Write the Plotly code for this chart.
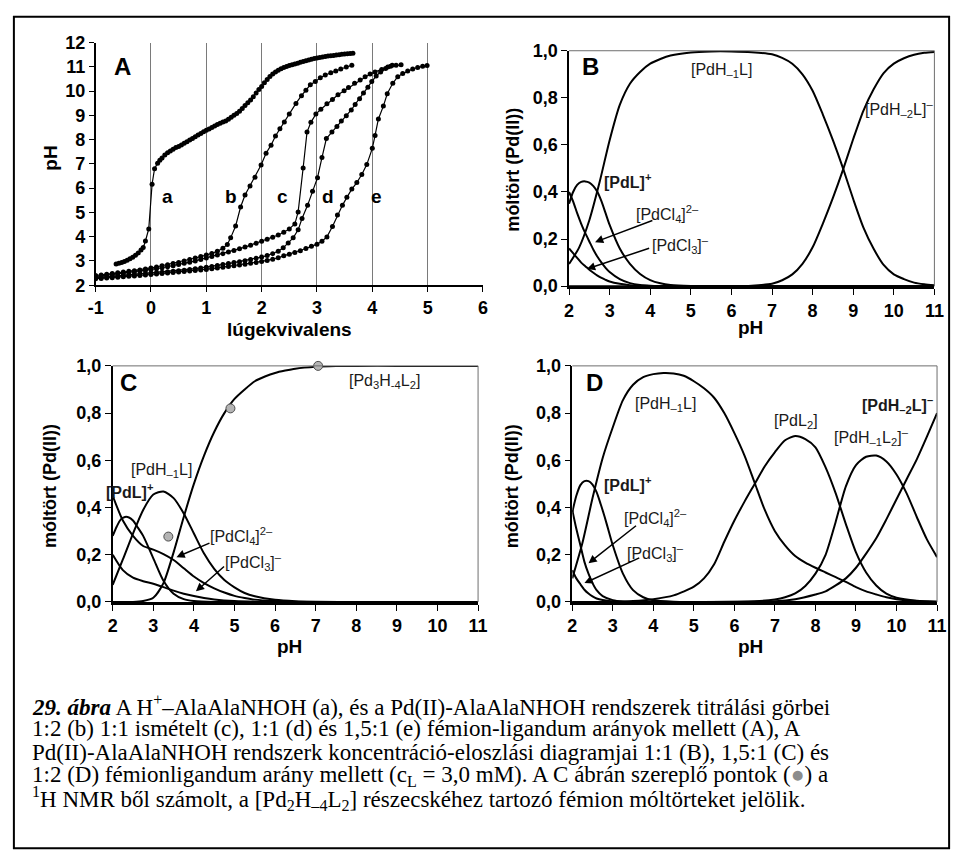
import plotly.graph_objects as go

W, H = 965, 865
SANS = "Arial, 'Liberation Sans', sans-serif"
SERIF = "'Times New Roman', 'Liberation Serif', serif"

# ---------------- Panel A : titration curves ----------------
A_XTICKS = [-1, 0, 1, 2, 3, 4, 5, 6]
A_XTICKLABELS = ["-1", "0", "1", "2", "3", "4", "5", "6"]
A_YTICKS = [2, 3, 4, 5, 6, 7, 8, 9, 10, 11, 12]
A_YTICKLABELS = ["2", "3", "4", "5", "6", "7", "8", "9", "10", "11", "12"]

a_x = [-0.63, -0.58, -0.53, -0.48, -0.43, -0.38, -0.33, -0.28, -0.23, -0.18,
       -0.14, -0.10, -0.04, 0.02, 0.065, 0.12, 0.16,
       0.20, 0.25, 0.30, 0.35, 0.40, 0.45, 0.50, 0.55, 0.60, 0.65, 0.70, 0.75, 0.80, 0.85, 0.90, 0.95, 1.00,
       1.05, 1.10, 1.15, 1.20, 1.25, 1.30, 1.35, 1.40, 1.45, 1.50,
       1.55, 1.60, 1.65, 1.70, 1.75, 1.80, 1.85, 1.90, 1.95, 2.00,
       2.05, 2.10, 2.15, 2.20, 2.25, 2.30, 2.35, 2.40, 2.45, 2.50,
       2.55, 2.60, 2.65, 2.70, 2.75, 2.80, 2.85, 2.90, 2.95, 3.00,
       3.05, 3.10, 3.15, 3.20, 3.25, 3.30, 3.35, 3.40, 3.45, 3.50,
       3.55, 3.60, 3.65]
a_y = [2.87, 2.90, 2.93, 2.98, 3.03, 3.09, 3.15, 3.23, 3.33, 3.45,
       3.55, 3.82, 4.32, 6.16, 6.80, 7.03, 7.15,
       7.24, 7.36, 7.46, 7.53, 7.60, 7.67, 7.72, 7.78, 7.85, 7.91, 7.98, 8.05, 8.12, 8.19, 8.25, 8.32, 8.38,
       8.44, 8.50, 8.56, 8.62, 8.67, 8.72, 8.77, 8.84, 8.92, 9.00,
       9.08, 9.17, 9.28, 9.41, 9.52, 9.63, 9.77, 9.92, 10.06, 10.19,
       10.34, 10.48, 10.60, 10.70, 10.79, 10.86, 10.92, 10.97, 11.01, 11.05,
       11.08, 11.12, 11.15, 11.19, 11.22, 11.25, 11.28, 11.31, 11.34, 11.36,
       11.38, 11.40, 11.42, 11.44, 11.46, 11.47, 11.49, 11.50, 11.52, 11.53,
       11.54, 11.55, 11.56]

b_x = [-1.0, -0.9, -0.8, -0.7, -0.6, -0.5, -0.4, -0.3, -0.2, -0.1, 0.0, 0.1, 0.2, 0.3, 0.4, 0.5,
       0.6, 0.7, 0.8, 0.9, 1.0, 1.1, 1.2, 1.3, 1.38, 1.44,
       1.53, 1.62, 1.70, 1.79, 1.88, 1.99, 2.08, 2.17, 2.25, 2.33, 2.41, 2.50,
       2.62, 2.72, 2.80, 2.88, 2.97, 3.06, 3.15, 3.25, 3.34, 3.43, 3.53, 3.63]
b_y = [2.40, 2.42, 2.45, 2.48, 2.51, 2.54, 2.57, 2.60, 2.63, 2.67, 2.71, 2.75, 2.80, 2.84, 2.89, 2.94,
       3.00, 3.06, 3.12, 3.18, 3.24, 3.31, 3.40, 3.52, 3.68, 3.95,
       4.44, 5.22, 5.72, 6.09, 6.45, 6.95, 7.44, 7.77, 8.15, 8.45, 8.72, 9.05,
       9.49, 9.81, 10.03, 10.26, 10.39, 10.55, 10.66, 10.75, 10.83, 10.91, 10.99, 11.06]

c_x = [-1.0, -0.9, -0.8, -0.7, -0.6, -0.5, -0.4, -0.3, -0.2, -0.1, 0.0, 0.1, 0.2, 0.3, 0.4, 0.5,
       0.6, 0.7, 0.8, 0.9, 1.0, 1.1, 1.2, 1.3, 1.4, 1.5, 1.6, 1.7, 1.8, 1.9, 2.0, 2.1, 2.2, 2.3, 2.4, 2.5,
       2.6, 2.66, 2.75, 2.82, 2.89, 2.98, 3.07, 3.18, 3.28, 3.38,
       3.49, 3.57, 3.68, 3.78, 3.87, 3.96, 4.05, 4.17, 4.28, 4.36]
c_y = [2.35, 2.38, 2.41, 2.43, 2.46, 2.48, 2.51, 2.54, 2.57, 2.61, 2.64, 2.68, 2.72, 2.76, 2.80, 2.85,
       2.90, 2.95, 3.00, 3.06, 3.12, 3.18, 3.24, 3.30, 3.37, 3.43, 3.50, 3.57, 3.65, 3.73, 3.81, 3.89, 3.98, 4.07, 4.18, 4.32,
       4.52, 5.02, 6.83, 8.31, 8.71, 9.05, 9.25, 9.48, 9.65, 9.85,
       10.01, 10.15, 10.32, 10.46, 10.59, 10.70, 10.79, 10.89, 10.99, 11.06]

d_x = [-1.0, -0.9, -0.8, -0.7, -0.6, -0.5, -0.4, -0.3, -0.2, -0.1, 0.0, 0.1, 0.2, 0.3, 0.4, 0.5,
       0.6, 0.7, 0.8, 0.9, 1.0, 1.1, 1.2, 1.3, 1.4, 1.5, 1.6, 1.7, 1.8, 1.9, 2.0, 2.1, 2.2, 2.3,
       2.39, 2.48, 2.57, 2.66, 2.73, 2.83, 2.92, 3.01, 3.09, 3.17,
       3.27, 3.36, 3.44, 3.53, 3.62, 3.69, 3.77, 3.84, 3.92, 3.99,
       4.07, 4.15, 4.24, 4.33, 4.43, 4.52]
d_y = [2.30, 2.32, 2.34, 2.36, 2.37, 2.39, 2.41, 2.43, 2.45, 2.47, 2.49, 2.51, 2.53, 2.55, 2.57, 2.59,
       2.62, 2.65, 2.68, 2.71, 2.74, 2.77, 2.81, 2.85, 2.89, 2.93, 2.97, 3.01, 3.06, 3.11, 3.16, 3.22, 3.30, 3.40,
       3.54, 3.74, 3.95, 4.28, 4.75, 5.29, 5.87, 6.43, 7.26, 8.04,
       8.31, 8.54, 8.77, 8.98, 9.22, 9.45, 9.68, 9.92, 10.16, 10.39,
       10.62, 10.79, 10.93, 11.02, 11.06, 11.08]

e_x = [-1.0, -0.9, -0.8, -0.7, -0.6, -0.5, -0.4, -0.3, -0.2, -0.1, 0.0, 0.1, 0.2, 0.3, 0.4, 0.5,
       0.6, 0.7, 0.8, 0.9, 1.0, 1.1, 1.2, 1.3, 1.4, 1.5, 1.6, 1.7, 1.8, 1.9, 2.0, 2.1, 2.2, 2.3, 2.4,
       2.5, 2.6, 2.7, 2.8, 2.9, 3.0,
       3.09, 3.18, 3.28, 3.37, 3.46, 3.54, 3.63, 3.72, 3.81, 3.90, 4.0, 4.05, 4.11, 4.20, 4.27, 4.37,
       4.46, 4.55, 4.64, 4.73, 4.82, 4.91, 4.99]
e_y = [2.27, 2.28, 2.30, 2.31, 2.33, 2.35, 2.37, 2.38, 2.40, 2.42, 2.44, 2.46, 2.48, 2.50, 2.52, 2.54,
       2.56, 2.58, 2.61, 2.63, 2.65, 2.68, 2.71, 2.74, 2.77, 2.80, 2.83, 2.86, 2.90, 2.94, 2.98, 3.02, 3.07, 3.13, 3.21,
       3.28, 3.35, 3.42, 3.51, 3.60, 3.69,
       3.81, 3.99, 4.42, 4.89, 5.29, 5.62, 5.96, 6.23, 6.56, 6.97, 7.64, 8.17, 8.85, 9.38, 9.89, 10.32,
       10.59, 10.72, 10.83, 10.91, 10.97, 11.02, 11.05]

A_CURVES = [("a", a_x, a_y), ("b", b_x, b_y), ("c", c_x, c_y), ("d", d_x, d_y), ("e", e_x, e_y)]
A_CURVE_LABELS = ["a", "b", "c", "d", "e"]
A_LABEL_X = [0.30, 1.44, 2.38, 3.20, 4.07]
A_LABEL_Y = 5.66

# ---------------- Panel B : 1:1 ----------------
PH_TICKS = [2, 3, 4, 5, 6, 7, 8, 9, 10, 11]
PH_TICKLABELS = ["2", "3", "4", "5", "6", "7", "8", "9", "10", "11"]
FRAC_TICKS = [0.0, 0.2, 0.4, 0.6, 0.8, 1.0]
FRAC_TICKLABELS = ["0,0", "0,2", "0,4", "0,6", "0,8", "1,0"]

B_PdCl4_pH = [2.0, 2.1, 2.2, 2.3, 2.4, 2.5, 2.6, 2.7, 2.8, 2.9, 3.0, 3.25, 3.5, 3.75, 4.0, 4.5, 5.0, 6.0, 8.0, 11.0]
B_PdCl4 = [0.40, 0.36, 0.31, 0.265, 0.225, 0.19, 0.155, 0.125, 0.10, 0.078, 0.06, 0.03, 0.013, 0.005, 0.002, 0.0, 0.0, 0.0, 0.0, 0.0]
B_PdCl3_pH = [2.0, 2.1, 2.2, 2.3, 2.4, 2.5, 2.6, 2.7, 2.8, 2.9, 3.0, 3.25, 3.5, 4.0, 4.5, 5.0, 6.0, 8.0, 11.0]
B_PdCl3 = [0.16, 0.14, 0.12, 0.10, 0.085, 0.07, 0.057, 0.045, 0.035, 0.027, 0.02, 0.01, 0.004, 0.001, 0.0, 0.0, 0.0, 0.0, 0.0]
B_PdL_pH = [2.0, 2.1, 2.2, 2.3, 2.4, 2.5, 2.6, 2.7, 2.8, 2.9, 3.0, 3.25, 3.5, 3.75, 4.0, 4.25, 4.5, 5.0, 6.0, 8.0, 11.0]
B_PdL = [0.35, 0.40, 0.43, 0.443, 0.445, 0.44, 0.425, 0.40, 0.36, 0.31, 0.26, 0.16, 0.095, 0.052, 0.026, 0.012, 0.005, 0.001, 0.0, 0.0, 0.0]
B_PdH1L_pH = [2.0, 2.25, 2.5, 2.75, 3.0, 3.25, 3.5, 3.75, 4.0, 4.25, 4.5, 5.0, 5.5, 6.0, 6.5, 7.0, 7.25,
              7.5, 7.75, 8.0, 8.25, 8.5, 8.75, 9.0, 9.25, 9.5, 9.75, 10.0, 10.25, 10.5, 10.75, 11.0]
B_PdH1L = [0.094, 0.165, 0.28, 0.44, 0.62, 0.77, 0.86, 0.91, 0.945, 0.965, 0.98, 0.993, 0.997, 0.997, 0.994, 0.985, 0.97,
           0.945, 0.90, 0.83, 0.73, 0.62, 0.50, 0.37, 0.25, 0.16, 0.09, 0.05, 0.03, 0.015, 0.008, 0.004]
B_PdH2L_pH = [2.0, 4.0, 6.0, 6.5, 7.0, 7.25, 7.5, 7.75, 8.0, 8.25, 8.5, 8.75, 9.0, 9.25, 9.5, 9.75, 10.0, 10.25, 10.5, 10.75, 11.0]
B_PdH2L = [0.0, 0.0, 0.0, 0.002, 0.01, 0.025, 0.05, 0.095, 0.165, 0.265, 0.375, 0.495, 0.625, 0.745, 0.835, 0.905, 0.945, 0.968, 0.983, 0.991, 0.995]

# ---------------- Panel C : 1.5:1 ----------------
C_PdCl4_pH = [2.0, 2.25, 2.5, 2.75, 3.0, 3.25, 3.5, 3.75, 4.0, 4.25, 4.5, 4.75, 5.0, 5.25, 5.5, 6.0, 6.5, 7.0, 9.0, 11.0]
C_PdCl4 = [0.45, 0.345, 0.28, 0.237, 0.222, 0.203, 0.178, 0.143, 0.108, 0.08, 0.058, 0.04, 0.026, 0.017, 0.01, 0.004, 0.001, 0.0, 0.0, 0.0]
C_PdCl3_pH = [2.0, 2.25, 2.5, 2.75, 3.0, 3.25, 3.5, 3.75, 4.0, 4.25, 4.5, 5.0, 5.5, 6.0, 8.0, 11.0]
C_PdCl3 = [0.20, 0.135, 0.103, 0.088, 0.077, 0.063, 0.048, 0.035, 0.025, 0.017, 0.011, 0.004, 0.001, 0.0, 0.0, 0.0]
C_PdL_pH = [2.0, 2.1, 2.2, 2.3, 2.4, 2.5, 2.6, 2.75, 3.0, 3.25, 3.5, 3.75, 4.0, 4.5, 5.0, 7.0, 11.0]
C_PdL = [0.28, 0.32, 0.35, 0.36, 0.358, 0.345, 0.32, 0.28, 0.185, 0.09, 0.035, 0.012, 0.004, 0.0, 0.0, 0.0, 0.0]
C_PdH1L_pH = [2.0, 2.25, 2.5, 2.75, 3.0, 3.25, 3.5, 3.75, 4.0, 4.25, 4.5, 4.75, 5.0, 5.25, 5.5, 6.0, 6.5, 7.0, 8.0, 11.0]
C_PdH1L = [0.073, 0.18, 0.29, 0.39, 0.455, 0.468, 0.44, 0.375, 0.29, 0.205, 0.14, 0.093, 0.062, 0.038, 0.024, 0.009, 0.003, 0.001, 0.0, 0.0]
C_Pd3_pH = [2.0, 2.5, 2.75, 3.0, 3.25, 3.5, 3.75, 4.0, 4.25, 4.5, 4.75, 5.0, 5.25, 5.5, 5.75, 6.0, 6.25, 6.5, 7.0, 7.5, 8.0, 9.0, 10.0, 11.0]
C_Pd3 = [0.0, 0.0, 0.004, 0.018, 0.08, 0.21, 0.36, 0.50, 0.62, 0.72, 0.80, 0.86, 0.90, 0.935, 0.955, 0.97, 0.98, 0.988, 0.996, 0.999, 1.0, 1.0, 1.0, 1.0]
C_NMR_pH = [3.37, 4.90, 7.06]
C_NMR_frac = [0.277, 0.82, 1.0]

# ---------------- Panel D : 1:2 ----------------
D_PdCl4_pH = [2.0, 2.1, 2.2, 2.3, 2.4, 2.5, 2.6, 2.75, 3.0, 3.25, 3.5, 5.0, 8.0, 11.0]
D_PdCl4 = [0.39, 0.31, 0.24, 0.17, 0.12, 0.08, 0.05, 0.025, 0.008, 0.002, 0.0, 0.0, 0.0, 0.0]
D_PdCl3_pH = [2.0, 2.1, 2.2, 2.3, 2.4, 2.5, 2.6, 2.75, 3.0, 3.25, 5.0, 8.0, 11.0]
D_PdCl3 = [0.135, 0.10, 0.075, 0.052, 0.036, 0.024, 0.015, 0.008, 0.002, 0.0, 0.0, 0.0, 0.0]
D_PdL_pH = [2.0, 2.1, 2.2, 2.3, 2.4, 2.5, 2.6, 2.7, 2.8, 2.9, 3.0, 3.25, 3.5, 3.75, 4.0, 4.5, 5.0, 8.0, 11.0]
D_PdL = [0.38, 0.45, 0.495, 0.512, 0.512, 0.497, 0.465, 0.415, 0.36, 0.30, 0.24, 0.12, 0.05, 0.02, 0.007, 0.001, 0.0, 0.0, 0.0]
D_PdH1L_pH = [2.0, 2.25, 2.5, 2.75, 3.0, 3.25, 3.5, 3.75, 4.0, 4.25, 4.5, 4.75, 5.0, 5.25, 5.5, 5.75, 6.0, 6.25,
              6.5, 6.75, 7.0, 7.25, 7.5, 7.75, 8.0, 8.25, 8.5, 8.75, 9.0, 9.25, 9.5, 9.75, 10.0, 10.5, 11.0]
D_PdH1L = [0.10, 0.25, 0.44, 0.61, 0.74, 0.855, 0.92, 0.952, 0.965, 0.97, 0.968, 0.958, 0.935, 0.905, 0.865, 0.80, 0.715, 0.62,
           0.505, 0.39, 0.30, 0.24, 0.195, 0.167, 0.145, 0.125, 0.105, 0.085, 0.063, 0.045, 0.032, 0.02, 0.012, 0.004, 0.001]
D_PdL2_pH = [2.0, 3.0, 3.5, 4.0, 4.5, 5.0, 5.25, 5.5, 5.75, 6.0, 6.25, 6.5, 6.75, 7.0, 7.25, 7.5, 7.75, 8.0, 8.25,
             8.5, 8.75, 9.0, 9.25, 9.5, 9.75, 10.0, 10.5, 11.0]
D_PdL2 = [0.0, 0.001, 0.004, 0.012, 0.028, 0.065, 0.10, 0.16, 0.255, 0.345, 0.425, 0.50, 0.575, 0.635, 0.685, 0.703, 0.69, 0.655, 0.57,
          0.46, 0.33, 0.21, 0.125, 0.07, 0.035, 0.018, 0.005, 0.001]
D_PdH1L2_pH = [2.0, 5.0, 6.5, 7.0, 7.25, 7.5, 7.75, 8.0, 8.25, 8.5, 8.75, 9.0, 9.25, 9.5, 9.75, 10.0, 10.25, 10.5, 10.75, 11.0]
D_PdH1L2 = [0.0, 0.0, 0.003, 0.011, 0.02, 0.036, 0.068, 0.12, 0.20, 0.34, 0.49, 0.58, 0.615, 0.62, 0.595, 0.54, 0.46, 0.36, 0.265, 0.19]
D_PdH2L_pH = [2.0, 5.0, 7.0, 7.5, 8.0, 8.25, 8.5, 8.75, 9.0, 9.25, 9.5, 9.75, 10.0, 10.25, 10.5, 10.75, 11.0]
D_PdH2L = [0.0, 0.0, 0.003, 0.012, 0.032, 0.045, 0.07, 0.10, 0.145, 0.205, 0.27, 0.35, 0.435, 0.52, 0.604, 0.70, 0.80]

# ---------------- helpers ----------------
def dom_x(p0, p1):
    return [p0 / W, p1 / W]


def dom_y(top, bot):
    return [1 - bot / H, 1 - top / H]


def bold(labels):
    return ["<b>%s</b>" % s for s in labels]


TICKFONT = dict(family=SANS, size=18, color="black")
LABELFONT = dict(family=SANS, size=16, color="#1a1a1a")

fig = go.Figure()

# Panel A traces
for name, xs, ys in A_CURVES:
    fig.add_trace(go.Scatter(x=xs, y=ys, mode="lines+markers", xaxis="x", yaxis="y",
                             line=dict(color="black", width=1.2),
                             marker=dict(color="black", size=5, line=dict(width=0)),
                             showlegend=False, hoverinfo="skip"))


def species(xs, ys, ax):
    fig.add_trace(go.Scatter(x=xs, y=ys, mode="lines", xaxis="x" + ax, yaxis="y" + ax,
                             line=dict(color="black", width=2, shape="spline", smoothing=0.7),
                             showlegend=False, hoverinfo="skip"))


for xs, ys in [(B_PdCl4_pH, B_PdCl4), (B_PdCl3_pH, B_PdCl3), (B_PdL_pH, B_PdL),
               (B_PdH1L_pH, B_PdH1L), (B_PdH2L_pH, B_PdH2L)]:
    species(xs, ys, "2")
for xs, ys in [(C_PdCl4_pH, C_PdCl4), (C_PdCl3_pH, C_PdCl3), (C_PdL_pH, C_PdL),
               (C_PdH1L_pH, C_PdH1L), (C_Pd3_pH, C_Pd3)]:
    species(xs, ys, "3")
for xs, ys in [(D_PdCl4_pH, D_PdCl4), (D_PdCl3_pH, D_PdCl3), (D_PdL_pH, D_PdL),
               (D_PdH1L_pH, D_PdH1L), (D_PdL2_pH, D_PdL2), (D_PdH1L2_pH, D_PdH1L2), (D_PdH2L_pH, D_PdH2L)]:
    species(xs, ys, "4")

fig.add_trace(go.Scatter(x=C_NMR_pH, y=C_NMR_frac, mode="markers", xaxis="x3", yaxis="y3",
                         marker=dict(color="#b4b4b4", size=9, line=dict(color="#4d4d4d", width=1)),
                         cliponaxis=False, showlegend=False, hoverinfo="skip"))

# ---------------- axes ----------------
layout = dict(
    width=W, height=H, autosize=False,
    margin=dict(l=0, r=0, t=0, b=0, pad=0),
    paper_bgcolor="white", plot_bgcolor="white",
    separators=", ",
    showlegend=False,
)

layout["xaxis"] = dict(domain=dom_x(89.3, 484), range=[-1, 6], tickvals=A_XTICKS, ticktext=bold(A_XTICKLABELS),
                       ticks="outside", ticklen=5, tickcolor="black", tickwidth=1.2,
                       showline=True, linecolor="black", linewidth=1.5,
                       showgrid=True, gridcolor="#7a7a7a", gridwidth=1.2, zeroline=False,
                       tickfont=TICKFONT, anchor="y", fixedrange=True)
layout["yaxis"] = dict(domain=dom_y(33.3, 281.7), range=[2, 12], tickvals=A_YTICKS, ticktext=bold(A_YTICKLABELS),
                       ticks="outside", ticklen=5, tickcolor="black", tickwidth=1.2,
                       showline=True, linecolor="black", linewidth=1.5,
                       showgrid=False, zeroline=False, tickfont=TICKFONT, anchor="x", fixedrange=True)

PANELS = {
    "2": dict(x=(571.7, 944.0), y=(41.7, 282.7)),
    "3": dict(x=(106.7, 479.0), y=(364.3, 606.0)),
    "4": dict(x=(575.0, 946.7), y=(364.3, 606.0)),
}
shapes = []
for k, p in PANELS.items():
    layout["xaxis" + k] = dict(domain=dom_x(*p["x"]), range=[2, 11], tickvals=PH_TICKS, ticktext=bold(PH_TICKLABELS),
                               ticks="outside", ticklen=6, tickcolor="black", tickwidth=1.2,
                               showline=True, linecolor="black", linewidth=2.5,
                               showgrid=False, zeroline=False, tickfont=TICKFONT,
                               anchor="y" + k, fixedrange=True)
    layout["yaxis" + k] = dict(domain=dom_y(*p["y"]), range=[0, 1.0], tickvals=FRAC_TICKS,
                               ticktext=bold(FRAC_TICKLABELS),
                               ticks="outside", ticklen=6, tickcolor="black", tickwidth=1.2,
                               showline=True, linecolor="black", linewidth=1.5,
                               showgrid=False, zeroline=False, tickfont=TICKFONT,
                               anchor="x" + k, fixedrange=True)
    shapes.append(dict(type="line", xref="x%s domain" % k, yref="y%s domain" % k, x0=0, x1=1, y0=1, y1=1,
                       line=dict(color="#6e6e6e", width=1)))
    shapes.append(dict(type="line", xref="x%s domain" % k, yref="y%s domain" % k, x0=1, x1=1, y0=0, y1=1,
                       line=dict(color="#6e6e6e", width=1)))

# outer frame
shapes.append(dict(type="rect", xref="paper", yref="paper", x0=6 / W, x1=959 / W, y0=1 - 858 / H, y1=1 - 7 / H,
                   line=dict(color="black", width=2), fillcolor="rgba(0,0,0,0)"))
layout["shapes"] = shapes

ann = []


def text(x, y, s, ax="", font=None, **kw):
    d = dict(x=x, y=y, text=s, showarrow=False, font=font or LABELFONT,
             xref="x" + ax if ax else "x", yref="y" + ax if ax else "y")
    d.update(kw)
    ann.append(d)


def arrow(tail, tip, ax):
    ann.append(dict(x=tip[0], y=tip[1], ax=tail[0], ay=tail[1], xref="x" + ax, yref="y" + ax,
                    axref="x" + ax, ayref="y" + ax, text="", showarrow=True,
                    arrowhead=2, arrowsize=1.1, arrowwidth=1.5, arrowcolor="black"))


def ptext(px, py, s, size=18, angle=0, family=SANS, xanchor="center"):
    ann.append(dict(x=px / W, y=1 - py / H, xref="paper", yref="paper", text=s, showarrow=False,
                    textangle=angle, xanchor=xanchor, yanchor="middle",
                    font=dict(family=family, size=size, color="black")))


PANEL_FONT = dict(family=SANS, size=24, color="black")
CURVELBL_FONT = dict(family=SANS, size=19, color="black")

# Panel A labels
text(-0.51, 11.0, "<b>A</b>", font=PANEL_FONT)
for lbl, lx in zip(A_CURVE_LABELS, A_LABEL_X):
    text(lx, A_LABEL_Y, "<b>%s</b>" % lbl, font=CURVELBL_FONT)

# Panel B labels
text(2.52, 0.935, "<b>B</b>", "2", font=PANEL_FONT)
text(5.75, 0.917, "[PdH<sub>–1</sub>L]", "2")
text(10.14, 0.751, "[PdH<sub>–2</sub>L]<sup>–</sup>", "2")
text(3.45, 0.447, "<b>[PdL]<sup>+</sup></b>", "2")
text(4.42, 0.305, "[PdCl<sub>4</sub>]<sup>2–</sup>", "2")
text(4.74, 0.174, "[PdCl<sub>3</sub>]<sup>–</sup>", "2")
arrow((4.09, 0.281), (2.64, 0.187), "2")
arrow((4.01, 0.163), (2.44, 0.073), "2")

# Panel C labels
text(2.40, 0.928, "<b>C</b>", "3", font=PANEL_FONT)
text(8.69, 0.932, "[Pd<sub>3</sub>H<sub>-4</sub>L<sub>2</sub>]", "3")
text(3.21, 0.556, "[PdH<sub>–1</sub>L]", "3")
text(2.42, 0.469, "<b>[PdL]<sup>+</sup></b>", "3")
text(5.18, 0.28, "[PdCl<sub>4</sub>]<sup>2–</sup>", "3")
text(5.46, 0.17, "[PdCl<sub>3</sub>]<sup>–</sup>", "3")
arrow((4.42, 0.252), (3.57, 0.19), "3")
arrow((4.78, 0.156), (4.05, 0.045), "3")

# Panel D labels
text(2.56, 0.928, "<b>D</b>", "4", font=PANEL_FONT)
text(4.30, 0.836, "[PdH<sub>–1</sub>L]", "4")
text(7.53, 0.763, "[PdL<sub>2</sub>]", "4")
text(9.39, 0.70, "[PdH<sub>–1</sub>L<sub>2</sub>]<sup>–</sup>", "4")
text(10.03, 0.836, "<b>[PdH<sub>–2</sub>L]<sup>–</sup></b>", "4")
text(3.37, 0.498, "<b>[PdL]<sup>+</sup></b>", "4")
text(4.06, 0.356, "[PdCl<sub>4</sub>]<sup>2–</sup>", "4")
text(4.06, 0.207, "[PdCl<sub>3</sub>]<sup>–</sup>", "4")
arrow((3.61, 0.328), (2.40, 0.164), "4")
arrow((3.69, 0.19), (2.30, 0.08), "4")

# axis titles
ptext(43, 152, "<b>pH</b>", size=19, angle=-90)
ptext(287, 327, "<b>lúgekvivalens</b>", size=19)
ptext(515, 163, "<b>móltört (Pd(II))</b>", size=18, angle=-90)
ptext(757, 325, "<b>pH</b>", size=19)
ptext(43, 487, "<b>móltört (Pd(II))</b>", size=18, angle=-90)
ptext(287, 652, "<b>pH</b>", size=19)
ptext(513, 487, "<b>móltört (Pd(II))</b>", size=18, angle=-90)
ptext(757, 652, "<b>pH</b>", size=19)

# caption
CAPTION_LINES = [
    "<b><i>29. ábra</i></b> A H<sup>+</sup>–AlaAlaNHOH (a), és a Pd(II)-AlaAlaNHOH rendszerek titrálási görbei",
    "1:2 (b) 1:1 ismételt (c), 1:1 (d) és 1,5:1 (e) fémion-ligandum arányok mellett (A), A",
    "Pd(II)-AlaAlaNHOH rendszerk koncentráció-eloszlási diagramjai 1:1 (B), 1,5:1 (C) és",
    "1:2 (D) fémionligandum arány mellett (c<sub>L</sub> = 3,0 mM). A C ábrán szereplő pontok (<span style=\"color:#8c8c8c\">●</span>) a",
    "<sup>1</sup>H NMR ből számolt, a [Pd<sub>2</sub>H<sub>–4</sub>L<sub>2</sub>] részecskéhez tartozó fémion móltörteket jelölik.",
]
CAPTION_Y = [712, 736, 760, 784, 807]
for line, cy in zip(CAPTION_LINES, CAPTION_Y):
    ptext(22, cy, line, size=23, family=SERIF, xanchor="left")

layout["annotations"] = ann
fig.update_layout(**layout)
fig.write_html("out.html", config={"displayModeBar": False},
               post_script=("document.documentElement.style.margin='0px';"
                            "document.documentElement.style.padding='0px';"
                            "document.body.style.margin='0px';document.body.style.padding='0px';"
                            "document.body.style.overflow='hidden';"))
